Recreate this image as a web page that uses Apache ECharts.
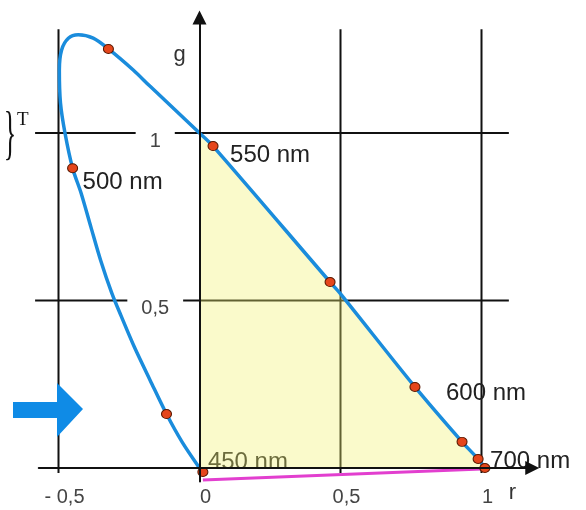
<!DOCTYPE html>
<html>
<head>
<meta charset="utf-8">
<script src="https://cdn.jsdelivr.net/npm/echarts@6/dist/echarts.min.js"></script>
<style>
  html, body { margin: 0; padding: 0; background: #fff; }
  #chart { width: 586px; height: 510px; }
</style>
</head>
<body>
<div id="chart"></div>
<script>
// rg chromaticity diagram: spectral locus, primaries triangle, purple line

// spectral locus (r, g), from 450 nm round to 700 nm
const locusR = [0, -0.062, -0.117, -0.174, -0.231, -0.278, -0.311, -0.351, -0.385, -0.420,
                -0.450, -0.477, -0.493, -0.497, -0.489, -0.465, -0.430, -0.377, -0.323,
                -0.235, -0.176, 0, 0.048, 0.463, 0.498, 0.764, 0.931, 0.988, 1.012];
const locusG = [0, 0.078, 0.161, 0.260, 0.361, 0.454, 0.522, 0.621, 0.719, 0.821,
                0.895, 1.0, 1.090, 1.188, 1.248, 1.283, 1.293, 1.283, 1.251,
                1.188, 1.140, 1.0, 0.961, 0.555, 0.522, 0.242, 0.078, 0.027, 0];

// marked wavelengths on the locus
const dotR = [0.012, -0.117, -0.450, -0.323, 0.048, 0.463, 0.764, 0.931, 0.988, 1.012];
const dotG = [-0.012, 0.161, 0.895, 1.251, 0.961, 0.555, 0.242, 0.078, 0.027, 0];

// wavelength labels and the marker each one belongs to
const waveNames = ['450 nm', '500 nm', '550 nm', '600 nm', '700 nm'];
const waveDot = [0, 2, 4, 6, 8];

// purple line endpoints (r, g)
const purpleR = [0.012, 1.0];
const purpleG = [-0.036, -0.003];

// ticks
const rTicks = [-0.5, 0, 0.5, 1];
const rTickLabels = ['- 0,5', '0', '0,5', '1'];
const gTicks = [0.5, 1];
const gTickLabels = ['0,5', '1'];

const R_MIN = -0.57, R_MAX = 1.18, G_MIN = -0.04, G_MAX = 1.345;
const PX_R = 282, PX_G = 335;

const chart = echarts.init(document.getElementById('chart'), null, { renderer: 'canvas' });

const FONT = 'Arial, "Liberation Sans", sans-serif';
const INK = '#111';

// label offsets (px) from the marker each wavelength label is attached to
const waveOffset = [[5, -10], [10, 14], [17, 9], [31, 6], [12, 2]];

// yellow region: origin, then the locus from (0,1) down to the r axis
const startIdx = locusR.indexOf(0, 1);
const fillPts = [[0, 0]];
for (let i = startIdx; i < locusR.length; i++) fillPts.push([locusR[i], locusG[i]]);

function lineEl(p1, p2, color, w) {
  return { type: 'line', shape: { x1: p1[0], y1: p1[1], x2: p2[0], y2: p2[1] },
           style: { stroke: color, lineWidth: w } };
}

const option = {
  animation: false,
  grid: {
    left: 199.5 + R_MIN * PX_R,
    top: 468 - G_MAX * PX_G,
    width: (R_MAX - R_MIN) * PX_R,
    height: (G_MAX - G_MIN) * PX_G,
    outerBoundsMode: 'none'
  },
  xAxis: {
    type: 'value', min: R_MIN, max: R_MAX, z: 10,
    axisLine: { onZero: true, symbol: ['none', 'triangle'], symbolSize: [14, 14],
                lineStyle: { color: INK, width: 2 } },
    axisTick: { show: false }, axisLabel: { show: false }, splitLine: { show: false }
  },
  yAxis: {
    type: 'value', min: G_MIN, max: G_MAX, z: 10,
    axisLine: { onZero: true, symbol: ['none', 'triangle'], symbolSize: [14, 14],
                lineStyle: { color: INK, width: 2 } },
    axisTick: { show: false }, axisLabel: { show: false }, splitLine: { show: false }
  },
  series: [
    // vertical grid lines
    {
      type: 'custom', z: 1, silent: true,
      data: rTicks.filter(v => v !== 0).map(v => [v, 0]),
      renderItem: (params, api) => {
        const r = api.value(0);
        return lineEl(api.coord([r, 1.31]), api.coord([r, -0.015]), INK, 2);
      }
    },
    // horizontal grid lines
    {
      type: 'custom', z: 1, silent: true,
      data: gTicks.map(v => [0, v]),
      renderItem: (params, api) => {
        const g = api.value(1);
        return lineEl(api.coord([-0.583, g]), api.coord([1.097, g]), INK, 2);
      }
    },
    // 450 nm label sits beneath the yellow fill
    {
      type: 'custom', z: 2, silent: true,
      data: [[dotR[waveDot[0]], dotG[waveDot[0]]]],
      renderItem: (params, api) => {
        const p = api.coord([api.value(0), api.value(1)]);
        return { type: 'text', x: p[0] + waveOffset[0][0], y: p[1] + waveOffset[0][1],
                 style: { text: waveNames[0], font: '24px ' + FONT, fill: '#222',
                          align: 'left', verticalAlign: 'middle' } };
      }
    },
    // yellow region
    {
      type: 'custom', z: 3, silent: true,
      data: [[0, 0]],
      renderItem: (params, api) => ({
        type: 'polygon',
        shape: { points: fillPts.map(p => api.coord(p)) },
        style: { fill: 'rgba(240,240,110,0.36)' }
      })
    },
    // purple line
    {
      type: 'line', z: 4, silent: true, symbol: 'none',
      data: purpleR.map((r, i) => [r, purpleG[i]]),
      lineStyle: { color: '#e23fcf', width: 3 }
    },
    // spectral locus
    {
      type: 'line', z: 5, silent: true, symbol: 'none', smooth: 0.3,
      data: locusR.map((r, i) => [r, locusG[i]]),
      lineStyle: { color: '#1a8cdc', width: 3.5 }
    },
    // wavelength markers
    {
      type: 'scatter', z: 6, silent: true, clip: false,
      symbol: 'circle', symbolSize: [10, 9],
      data: dotR.map((r, i) => [r, dotG[i]]),
      itemStyle: { color: '#e5461c', borderColor: '#5a1800', borderWidth: 1, opacity: 1 }
    },
    // wavelength labels
    {
      type: 'custom', z: 7, silent: true,
      data: waveDot.slice(1).map((d, i) => [dotR[d], dotG[d], i + 1]),
      renderItem: (params, api) => {
        const k = api.value(2);
        const p = api.coord([api.value(0), api.value(1)]);
        return { type: 'text', x: p[0] + waveOffset[k][0], y: p[1] + waveOffset[k][1],
                 style: { text: waveNames[k], font: '24px ' + FONT, fill: '#222',
                          align: 'left', verticalAlign: 'middle' } };
      }
    },
    // g tick labels, boxed in white so they break the grid line
    {
      type: 'custom', z: 7, silent: true,
      data: gTicks.map((g, i) => [-0.157, g, i]),
      renderItem: (params, api) => {
        const p = api.coord([api.value(0), api.value(1)]);
        return { type: 'text', x: p[0], y: p[1] + 8,
                 style: { text: gTickLabels[api.value(2)], font: '20px ' + FONT, fill: '#444',
                          align: 'center', verticalAlign: 'middle',
                          backgroundColor: '#fff', padding: [3, 14] } };
      }
    },
    // r tick labels
    {
      type: 'custom', z: 7, silent: true,
      data: rTicks.map((r, i) => [r, 0, i]),
      renderItem: (params, api) => {
        const p = api.coord([api.value(0), 0]);
        return { type: 'text', x: p[0] + 6, y: p[1] + 29,
                 style: { text: rTickLabels[api.value(2)], font: '20px ' + FONT, fill: '#444',
                          align: 'center', verticalAlign: 'middle' } };
      }
    },
    // axis names
    {
      type: 'custom', z: 7, silent: true,
      data: [[0, G_MAX, 0], [1, 0, 1]],
      renderItem: (params, api) => {
        const p = api.coord([api.value(0), api.value(1)]);
        const isG = api.value(2) === 0;
        return { type: 'text', x: isG ? p[0] - 20 : p[0] + 31, y: isG ? p[1] + 38 : p[1] + 25,
                 style: { text: isG ? 'g' : 'r', font: '22px ' + FONT, fill: '#333',
                          align: 'center', verticalAlign: 'middle' } };
      }
    }
  ],
  graphic: [
    // pointer arrow on the left
    {
      type: 'polygon', z: 20,
      shape: { points: [[13, 402], [57, 402], [57, 383], [83, 409], [57, 437], [57, 418], [13, 418]] },
      style: { fill: '#0f8be6' }
    },
    // transpose brace
    {
      type: 'text', z: 20, x: 10, y: 136, scaleX: 0.5, scaleY: 1.15,
      style: { text: '}', font: '52px "Liberation Serif", "Times New Roman", serif', fill: '#111',
               align: 'center', verticalAlign: 'middle' }
    },
    {
      type: 'text', z: 20, x: 17, y: 111,
      style: { text: 'T', font: '19px "Liberation Serif", "Times New Roman", serif', fill: '#111',
               align: 'left', verticalAlign: 'top' }
    }
  ]
};

chart.setOption(option);
</script>
</body>
</html>
